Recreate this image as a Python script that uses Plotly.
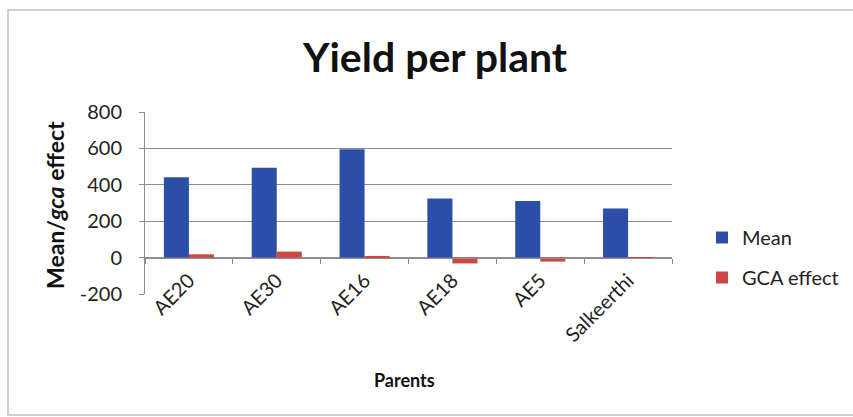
import plotly.graph_objects as go

# Parent lines and their trait values
parents = ["AE20", "AE30", "AE16", "AE18", "AE5", "Salkeerthi"]
mean_yield = [441, 494, 595, 325, 311, 270]
gca_effect = [18, 33, 9, -32, -22, -2]

y_ticks = [-200, 0, 200, 400, 600, 800]
y_tick_text = ["-200", "0", "200", "400", "600", "800"]

BLUE = "#2B4EA6"
RED = "#CF4542"
GRID = "#8E8E8E"
FONT = "Lato"

fig = go.Figure()
fig.add_trace(go.Bar(x=parents, y=mean_yield, name="Mean",
                     marker=dict(color=BLUE, line=dict(width=0)),
                     legendgroup="a"))
fig.add_trace(go.Bar(x=parents, y=gca_effect, name="GCA effect",
                     marker=dict(color=RED, line=dict(width=0)),
                     legendgroup="b"))
# invisible carrier for the category axis drawn along y = 0
fig.add_trace(go.Scatter(x=parents, y=[None] * len(parents), xaxis="x2",
                         mode="markers", showlegend=False, hoverinfo="skip"))

fig.update_layout(
    width=853, height=417,
    margin=dict(l=145, r=181, t=112, b=123, autoexpand=False),
    paper_bgcolor="white", plot_bgcolor="white",
    barmode="group", bargap=0.43, bargroupgap=0,
    font=dict(family=FONT, color="#1a1a1a"),
    title=dict(text="<b>Yield per plant</b>", x=435 / 853, xanchor="center",
               y=1 - 58 / 417, yanchor="middle",
               font=dict(family=FONT, size=41, color="#111111")),
    xaxis=dict(type="category", categoryorder="array", categoryarray=parents,
               showgrid=False, showline=False, zeroline=False, automargin=False,
               tickangle=-45, ticks="", ticklabelstandoff=-30,
               tickfont=dict(size=20, color="#222222")),
    xaxis2=dict(type="category", overlaying="x", matches="x", anchor="free",
                position=0.2, showline=True, linecolor=GRID, linewidth=1,
                ticks="outside", tickson="boundaries", ticklen=5, tickcolor=GRID,
                showticklabels=False, showgrid=False, zeroline=False,
                automargin=False),
    yaxis=dict(range=[-200, 800], tickvals=y_ticks, ticktext=y_tick_text,
               showgrid=True, gridcolor=GRID, gridwidth=1, zeroline=False,
               automargin=False, showline=True, linecolor=GRID, linewidth=1,
               ticks="outside", ticklen=5, tickcolor=GRID, ticklabelstandoff=13,
               tickfont=dict(size=20, color="#222222")),
    legend=dict(x=(702 - 145) / 527, xanchor="left",
                y=(294 - 218) / 182, yanchor="top", tracegroupgap=11,
                font=dict(size=20, color="#222222"), itemwidth=30,
                bgcolor="rgba(0,0,0,0)"),
    annotations=[
        dict(text="<b>Mean/<i>gca</i> effect</b>", xref="paper", yref="paper",
             x=(55 - 145) / 527, y=(294 - 205) / 182, textangle=-90,
             showarrow=False, xanchor="center", yanchor="middle",
             font=dict(size=23, color="#111111")),
        dict(text="<b>Parents</b>", xref="paper", yref="paper",
             x=(404 - 145) / 527, y=(294 - 380) / 182,
             showarrow=False, xanchor="center", yanchor="middle",
             font=dict(size=18, color="#111111")),
    ],
    shapes=[
        dict(type="rect", xref="paper", yref="paper",
             x0=(8 - 145) / 527, x1=(870 - 145) / 527,
             y0=(294 - 415) / 182, y1=(294 - 10) / 182,
             line=dict(color="#CFCFCF", width=2), fillcolor="rgba(0,0,0,0)",
             layer="below"),
    ],
)

fig.write_html("out.html")
